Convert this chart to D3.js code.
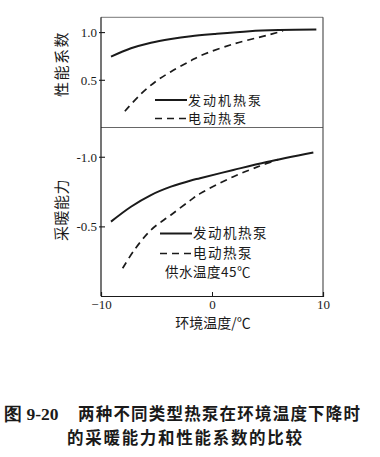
<!DOCTYPE html>
<html><head><meta charset="utf-8">
<script src="https://cdn.jsdelivr.net/npm/d3@7/dist/d3.min.js"></script>
<style>
html,body{margin:0;padding:0;background:#fff;}
svg{display:block;}
</style></head>
<body><svg id="c" width="380" height="457"></svg>
<script>
// ---- data ----
const xTicks = [-10, 0, 10];
const xTickLabels = ["\u221210", "0", "10"];
const copTicks = [0.5, 1.0];
const copTickLabels = ["0.5", "1.0"];
const capTicks = [0.5, 1.0];
const capTickLabels = ["-0.5", "-1.0"];

const copEngineT = [-9.1, -7.3, -5.5, -3.7, -1.9, 0.2, 3.4, 6.1, 9.4];
const copEngineV = [0.742, 0.83, 0.889, 0.928, 0.957, 0.98, 1.009, 1.021, 1.028];
const copElecT = [-7.85, -6.5, -5.1, -3.7, -1.9, -1.08, 1.92, 4.93, 6.4];
const copElecV = [0.17, 0.34, 0.48, 0.585, 0.70, 0.75, 0.875, 0.965, 1.012];

const capEngineT = [-9.1, -7.3, -5.5, -3.7, -1.9, -1.08, 1.92, 4.93, 9.13];
const capEngineV = [0.534, 0.641, 0.725, 0.785, 0.83, 0.846, 0.905, 0.962, 1.03];
const capElecT = [-8.05, -7.0, -5.5, -3.7, -1.9, -1.08, 1.92, 4.3, 5.97];
const capElecV = [0.199, 0.33, 0.474, 0.582, 0.69, 0.735, 0.857, 0.933, 0.98];

const seriesNames = ["发动机热泵", "电动热泵"];
const note = "供水温度45\u2103";
const yTitleTop = "性能系数";
const yTitleBottom = "采暖能力";
const xTitle = "环境温度/\u2103";
const caption1a = "图 9-20";
const caption1b = "两种不同类型热泵在环境温度下降时";
const caption2 = "的采暖能力和性能系数的比较";

// ---- layout ----
const svg = d3.select("#c");
const L = 101, R = 323, T = 17.3, MID = 127.5, B = 296;
const CJK = "'Noto Sans CJK SC', sans-serif";
const SERIF = "'Liberation Serif', 'DejaVu Serif', serif";
const ink = "#1a1a1a";

const x = d3.scaleLinear().domain([-10, 10]).range([L, R]);
const yTop = d3.scaleLinear().domain([0, 1.155]).range([MID, T]);
const yBot = d3.scaleLinear().domain([0, 1.21]).range([B, MID]);

// frames
svg.append("line").attr("x1", L).attr("x2", R).attr("y1", T).attr("y2", T).attr("stroke", "#777").attr("stroke-width", 1);
svg.append("line").attr("x1", L).attr("x2", R).attr("y1", MID).attr("y2", MID).attr("stroke", "#666").attr("stroke-width", 1.1);
svg.append("line").attr("x1", L).attr("x2", L).attr("y1", T).attr("y2", B).attr("stroke", ink).attr("stroke-width", 1.2);
svg.append("line").attr("x1", R).attr("x2", R).attr("y1", T).attr("y2", B).attr("stroke", "#444").attr("stroke-width", 1.1);

// axes
function yAxis(scale, ticks, labels) {
  const g = svg.append("g").attr("transform", `translate(${L},0)`)
    .call(d3.axisRight(scale).tickValues(ticks).tickSize(4).tickFormat(""));
  g.select(".domain").remove();
  g.selectAll(".tick line").attr("stroke", ink).attr("x1", -2).attr("stroke-width", 1.1);
  g.selectAll(".tick").append("text")
    .attr("x", -4).attr("dy", "0.35em").attr("text-anchor", "end")
    .attr("fill", ink).attr("font-family", SERIF).attr("font-size", 13)
    .text((d, i) => labels[i]);
}
yAxis(yTop, copTicks, copTickLabels);
yAxis(yBot, capTicks, capTickLabels);

const gx = svg.append("g").attr("transform", `translate(0,${B})`)
  .call(d3.axisTop(x).tickValues(xTicks).tickSize(4).tickFormat(""));
gx.select(".domain").attr("stroke", ink).attr("stroke-width", 1.2);
gx.selectAll(".tick line").attr("stroke", ink);
gx.selectAll(".tick").append("text")
  .attr("y", 13).attr("text-anchor", "middle")
  .attr("fill", ink).attr("font-family", SERIF).attr("font-size", 13)
  .text((d, i) => xTickLabels[i]);

// curves
function curve(ts, vs, yScale, dashed) {
  const pts = ts.map((t, i) => [t, vs[i]]);
  const line = d3.line().x(d => x(d[0])).y(d => yScale(d[1])).curve(d3.curveCatmullRom.alpha(0.5));
  svg.append("path").attr("d", line(pts)).attr("fill", "none")
    .attr("stroke", ink).attr("stroke-width", dashed ? 1.7 : 2)
    .attr("stroke-dasharray", dashed ? "7,5" : null);
}
curve(copEngineT, copEngineV, yTop, false);
curve(copElecT, copElecV, yTop, true);
curve(capEngineT, capEngineV, yBot, false);
curve(capElecT, capElecV, yBot, true);

// legends
function legend(x0, y0, gap, fs) {
  seriesNames.forEach((name, i) => {
    const yy = y0 + i * gap;
    svg.append("line").attr("x1", x0).attr("x2", x0 + 32).attr("y1", yy).attr("y2", yy)
      .attr("stroke", ink).attr("stroke-width", i ? 1.7 : 2)
      .attr("stroke-dasharray", i ? "7,5" : null);
    svg.append("text").attr("x", x0 + 33).attr("y", yy).attr("dy", "0.36em")
      .attr("font-family", CJK).attr("font-size", fs).attr("letter-spacing", 15 - fs)
      .attr("fill", ink).text(name);
  });
}
legend(155, 100, 18.5, 13);
legend(160, 233.5, 20, 13.5);
svg.append("text").attr("x", 165).attr("y", 272).attr("dy", "0.36em")
  .attr("font-family", CJK).attr("font-size", 13.5).attr("letter-spacing", 0.5)
  .attr("fill", ink).text(note);

// axis titles
svg.append("text").attr("transform", "translate(62,64) rotate(-90)")
  .attr("text-anchor", "middle").attr("dy", "0.36em")
  .attr("font-family", CJK).attr("font-size", 15).attr("letter-spacing", 1.5)
  .attr("fill", ink).text(yTitleTop);
svg.append("text").attr("transform", "translate(62,210) rotate(-90)")
  .attr("text-anchor", "middle").attr("dy", "0.36em")
  .attr("font-family", CJK).attr("font-size", 15).attr("letter-spacing", 0.5)
  .attr("fill", ink).text(yTitleBottom);
svg.append("text").attr("x", 213).attr("y", 323).attr("dy", "0.36em")
  .attr("text-anchor", "middle")
  .attr("font-family", CJK).attr("font-size", 14).attr("fill", ink).text(xTitle);

// caption
svg.append("text").attr("x", 4).attr("y", 414).attr("dy", "0.36em")
  .attr("font-family", SERIF).attr("font-weight", "bold").attr("font-size", 17.5)
  .attr("fill", ink).text(caption1a);
svg.append("text").attr("x", 78).attr("y", 414).attr("dy", "0.36em")
  .attr("font-family", CJK).attr("font-weight", "bold").attr("font-size", 16.5)
  .attr("textLength", 282).attr("lengthAdjust", "spacing")
  .attr("fill", ink).text(caption1b);
svg.append("text").attr("x", 67).attr("y", 438).attr("dy", "0.36em")
  .attr("font-family", CJK).attr("font-weight", "bold").attr("font-size", 16.5)
  .attr("textLength", 235).attr("lengthAdjust", "spacing")
  .attr("fill", ink).text(caption2);
</script></body></html>
